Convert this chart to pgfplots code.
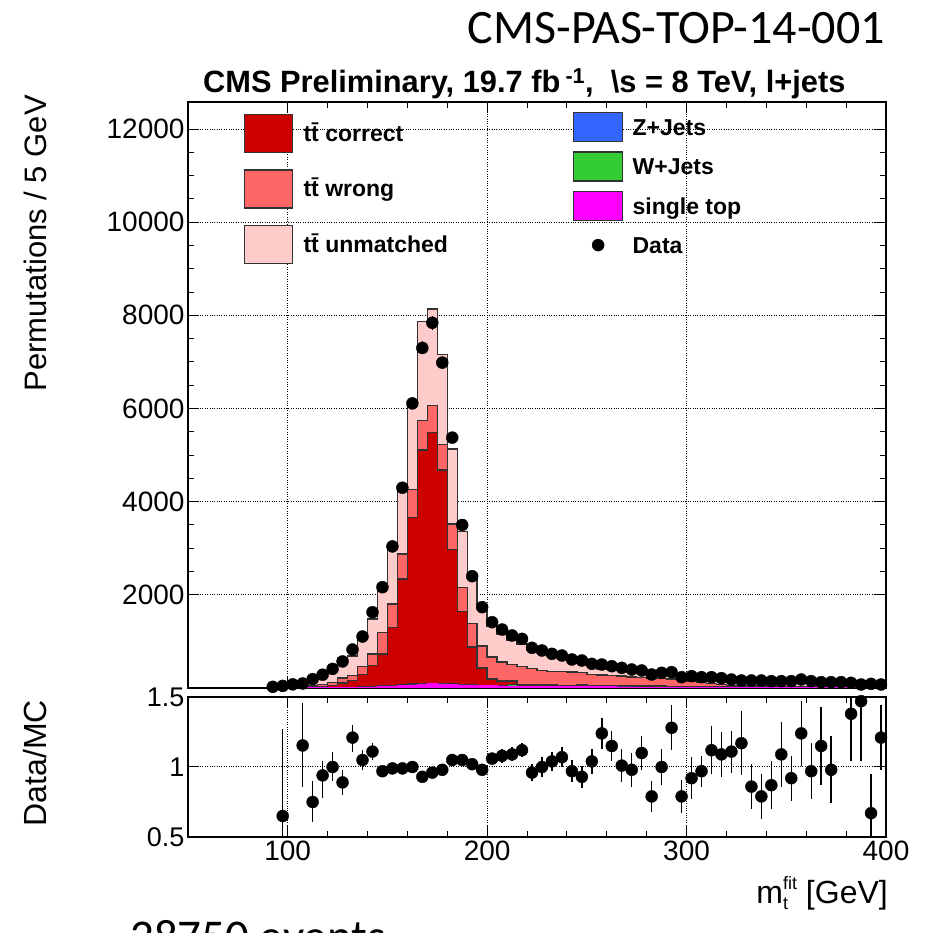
\documentclass[border=0pt]{standalone}
\usepackage{pgfplots}
\pgfplotsset{compat=1.18}
\usepackage{pgfplotstable}
\usepackage{fontspec}
\setmainfont{Liberation Sans}
\newfontfamily\calfont{Carlito}
\newcommand{\legfont}{\fontsize{23bp}{25bp}\selectfont\bfseries}
\definecolor{ttcor}{RGB}{204,0,0}
\definecolor{ttwro}{RGB}{255,102,102}
\definecolor{ttunm}{RGB}{255,204,204}
\definecolor{zjets}{RGB}{51,102,255}
\definecolor{wjets}{RGB}{51,204,51}
\definecolor{stop}{RGB}{255,0,255}
\definecolor{edge}{RGB}{50,50,50}

% cumulative stack tops, bins of 5 GeV given by left edge
\pgfplotstableread{
x st bz bw ct wt tot
95 1 1 1 6 15 69
100 2 2 3 6 14 50
105 2 2 3 10 22 84
110 3 4 8 20 50 253
115 4 5 25 35 75 303
120 6 7 15 55 115 410
125 8 9 15 110 215 640
130 10 11 19 155 270 683
135 14 15 25 284 463 1052
140 20 22 44 483 733 1478
145 28 30 55 733 1197 2240
150 38 40 52 1305 1807 2980
155 50 52 67 2343 2880 4300
160 65 67 92 3665 4260 6150
165 80 82 102 5111 5740 7865
170 90 92 107 5490 6062 8137
175 85 87 102 4682 5225 7160
180 75 77 89 2972 3524 5130
185 65 67 79 1642 2163 3355
190 58 60 70 876 1391 2353
195 52 54 64 433 900 1770
200 48 50 58 190 662 1333
205 45 47 55 147 555 1162
210 42 44 72 147 504 1034
215 40 42 50 70 461 942
220 37 39 46 68 425 898
225 35 37 44 65 375 805
230 33 34 41 63 354 705
235 31 32 38 60 350 651
240 29 30 36 58 340 631
245 27 28 56 66 330 634
250 26 27 33 54 290 499
255 25 26 31 52 280 406
260 24 25 30 50 270 407
265 22 23 28 48 260 429
270 21 22 27 46 240 405
275 20 21 25 44 230 342
280 19 20 24 42 215 367
285 18 19 23 40 205 326
290 17 18 22 38 195 266
295 16 17 21 36 180 294
300 15 16 19 34 150 276
305 14 15 18 32 125 239
310 13 14 17 30 100 207
315 12 13 16 28 80 194
320 12 13 16 27 60 164
325 11 12 15 26 50 138
330 10 11 14 25 45 187
335 10 11 13 24 42 204
340 9 10 12 23 40 169
345 9 10 12 22 38 135
350 8 9 11 21 36 160
355 8 9 11 20 34 147
360 7 8 10 19 32 152
365 7 8 10 18 30 109
370 6 7 9 17 28 128
375 6 7 9 16 26 125
380 6 7 9 15 24 80
385 5 6 8 14 22 51
390 5 6 8 13 21 133
395 5 6 8 12 20 62
400 5 6 8 12 20 62
}\mc

\pgfplotstableread{
x y e
92.5 25 20
97.5 45 40
102.5 78 40
107.5 97 25
112.5 190 35
117.5 285 35
122.5 410 40
127.5 570 55
132.5 826 60
137.5 1105 70
142.5 1627 90
147.5 2164 90
152.5 3040 100
157.5 4299 90
162.5 6110 120
167.5 7300 140
172.5 7840 150
177.5 6985 140
182.5 5375 110
187.5 3500 100
192.5 2400 75
197.5 1735 70
202.5 1413 55
207.5 1255 60
212.5 1127 55
217.5 1055 50
222.5 862 50
227.5 805 55
232.5 733 50
237.5 697 45
242.5 612 50
247.5 590 50
252.5 519 45
257.5 504 45
262.5 468 45
267.5 433 50
272.5 397 50
277.5 376 40
282.5 290 40
287.5 326 40
292.5 340 40
297.5 232 35
302.5 254 40
307.5 232 25
312.5 232 35
317.5 211 30
322.5 182 25
327.5 161 30
332.5 161 30
337.5 161 30
342.5 147 30
347.5 147 30
352.5 147 25
357.5 182 35
362.5 147 30
367.5 125 30
372.5 125 30
377.5 125 30
382.5 111 25
387.5 75 25
392.5 89 35
397.5 75 15
}\data

\pgfplotstableread{
x r ep em
97.5 0.65 0.62 0.5
107.5 1.154 0.30 0.30
112.5 0.75 0.15 0.14
117.5 0.94 0.10 0.16
122.5 1.00 0.11 0.10
127.5 0.89 0.09 0.09
132.5 1.21 0.09 0.10
137.5 1.05 0.07 0.07
142.5 1.11 0.06 0.06
147.5 0.97 0.04 0.04
152.5 0.99 0.03 0.03
157.5 0.99 0.02 0.02
162.5 1.00 0.02 0.02
167.5 0.93 0.02 0.02
172.5 0.96 0.02 0.02
177.5 0.98 0.02 0.02
182.5 1.05 0.02 0.02
187.5 1.05 0.03 0.03
192.5 1.02 0.03 0.03
197.5 0.98 0.04 0.04
202.5 1.06 0.04 0.04
207.5 1.08 0.05 0.05
212.5 1.09 0.05 0.05
217.5 1.12 0.05 0.05
222.5 0.96 0.06 0.06
227.5 1.00 0.07 0.07
232.5 1.04 0.07 0.07
237.5 1.07 0.07 0.07
242.5 0.97 0.08 0.08
247.5 0.93 0.08 0.08
252.5 1.04 0.09 0.09
257.5 1.24 0.11 0.11
262.5 1.15 0.11 0.11
267.5 1.01 0.12 0.12
272.5 0.98 0.12 0.12
277.5 1.10 0.12 0.12
282.5 0.79 0.11 0.11
287.5 1.00 0.13 0.13
292.5 1.28 0.16 0.16
297.5 0.79 0.12 0.12
302.5 0.92 0.15 0.15
307.5 0.97 0.11 0.11
312.5 1.12 0.17 0.17
317.5 1.09 0.16 0.16
322.5 1.11 0.15 0.15
327.5 1.17 0.23 0.23
332.5 0.86 0.16 0.16
337.5 0.79 0.16 0.16
342.5 0.87 0.17 0.17
347.5 1.09 0.23 0.23
352.5 0.92 0.16 0.16
357.5 1.24 0.23 0.23
362.5 0.97 0.20 0.20
367.5 1.15 0.28 0.28
372.5 0.98 0.24 0.24
382.5 1.38 0.33 0.34
387.5 1.47 0.45 0.43
392.5 0.67 0.28 0.28
397.5 1.21 0.23 0.23
}\ratio

\pgfplotsset{
  cmsaxis/.style={
    scale only axis, width=698bp, xmin=50, xmax=400,
    axis line style={line width=1.2bp, black},
    every tick/.style={line width=1bp, black},
    major tick length=11bp, minor tick length=6bp,
    tick align=inside,
    xtick={100,200,300,400}, minor x tick num=4,
    scaled ticks=false,
    grid=major, major grid style={dotted, line width=1bp, black},
    /pgf/number format/assume math mode=true,
    /pgf/number format/1000 sep={},
    ticklabel style={font=\fontsize{28bp}{30bp}\selectfont},
  },
  hist/.style={const plot, draw=edge, line width=1.4bp, forget plot},
}

\begin{document}
\begin{tikzpicture}
\path[use as bounding box] (-188bp,-96bp) rectangle (739bp,837bp);

% main panel
\begin{axis}[cmsaxis, at={(0bp,149bp)}, anchor=south west, height=586bp,
  ymin=0, ymax=12580, ytick={2000,4000,6000,8000,10000,12000}, minor y tick num=3,
  xticklabels={},
  legend style={draw=none, fill=none, at={(axis description cs:0.0802,0.9795)}, anchor=north west,
    inner sep=0pt, outer sep=0pt, row sep=16bp, nodes={inner sep=0pt}, column sep=0pt},
  legend cell align=left]
\addplot[hist, fill=ttunm] table[x=x,y=tot]{\mc} \closedcycle;
\addplot[hist, fill=ttwro] table[x=x,y=wt]{\mc} \closedcycle;
\addplot[hist, fill=ttcor] table[x=x,y=ct]{\mc} \closedcycle;
\addplot[hist, fill=wjets, line width=0.8bp] table[x=x,y=bw]{\mc} \closedcycle;
\addplot[hist, fill=zjets, line width=0.8bp] table[x=x,y=bz]{\mc} \closedcycle;
\addplot[hist, fill=stop, draw=stop, line width=0.8bp] table[x=x,y=st]{\mc} \closedcycle;
\addplot[only marks, mark=*, mark size=6bp, black, forget plot,
  error bars/.cd, y dir=both, y explicit, error mark=none,
  error bar style={line width=1.4bp, black}]
  table[x=x,y=y,y error=e]{\data};
\addlegendimage{legend image code/.code={\draw[fill=ttcor, draw=edge, line width=1.2bp] (0bp,0bp) rectangle (48bp,38bp);
  \node[anchor=base west, inner sep=0pt, font=\legfont, text=black] at (59bp,11bp) {t\={t} correct};}}
\addlegendentry{}
\addlegendimage{legend image code/.code={\draw[fill=ttwro, draw=edge, line width=1.2bp] (0bp,0bp) rectangle (48bp,38bp);
  \node[anchor=base west, inner sep=0pt, font=\legfont, text=black] at (59bp,11bp) {t\={t} wrong};}}
\addlegendentry{}
\addlegendimage{legend image code/.code={\draw[fill=ttunm, draw=edge, line width=1.2bp] (0bp,0bp) rectangle (48bp,38bp);
  \node[anchor=base west, inner sep=0pt, font=\legfont, text=black] at (59bp,11bp) {t\={t} unmatched};}}
\addlegendentry{}
\end{axis}

% second legend column
\begin{axis}[at={(0bp,149bp)}, anchor=south west, scale only axis, width=698bp, height=586bp,
  hide axis, xmin=0, xmax=1, ymin=0, ymax=1,
  legend style={draw=none, fill=none, at={(axis description cs:0.5516,0.983)}, anchor=north west,
    inner sep=0pt, outer sep=0pt, row sep=9.2bp, nodes={inner sep=0pt}, column sep=0pt},
  legend cell align=left]
\addlegendimage{legend image code/.code={\draw[fill=zjets, draw=edge, line width=1.2bp] (0bp,0bp) rectangle (49bp,29bp);
  \node[anchor=base west, inner sep=0pt, font=\legfont, text=black] at (59bp,6.5bp) {Z+Jets};}}
\addlegendentry{}
\addlegendimage{legend image code/.code={\draw[fill=wjets, draw=edge, line width=1.2bp] (0bp,0bp) rectangle (49bp,29bp);
  \node[anchor=base west, inner sep=0pt, font=\legfont, text=black] at (59bp,6.5bp) {W+Jets};}}
\addlegendentry{}
\addlegendimage{legend image code/.code={\draw[fill=stop, draw=edge, line width=1.2bp] (0bp,0bp) rectangle (49bp,29bp);
  \node[anchor=base west, inner sep=0pt, font=\legfont, text=black] at (59bp,6.5bp) {single top};}}
\addlegendentry{}
\addlegendimage{legend image code/.code={\path[draw=none, fill=none] (0bp,0bp) rectangle (49bp,29bp);
  \fill[black] (24.5bp,14.5bp) circle (6bp);
  \node[anchor=base west, inner sep=0pt, font=\legfont, text=black] at (59bp,6.5bp) {Data};}}
\addlegendentry{}
\end{axis}

% ratio panel
\begin{axis}[cmsaxis, at={(0bp,0bp)}, anchor=south west, height=140bp,
  ymin=0.5, ymax=1.5, ytick={0.5,1,1.5}, yticklabels={0.5,1,1.5},
  xticklabels={100,200,300,400},
  yticklabel style={font=\fontsize{27bp}{29bp}\selectfont}]
\addplot[only marks, mark=*, mark size=6bp, black,
  error bars/.cd, y dir=both, y explicit, error mark=none,
  error bar style={line width=1.4bp, black}]
  table[x=x,y=r,y error plus=ep,y error minus=em]{\ratio};
\end{axis}

% texts
\node[anchor=base west, inner sep=0pt, font=\fontsize{30.8bp}{32bp}\selectfont\bfseries]
  at (15bp,744bp) {CMS Preliminary, 19.7 fb\,\textsuperscript{-1},\ \ \textbackslash s = 8 TeV, l+jets};
\node[anchor=base east, inner sep=0pt, font=\calfont\fontsize{48bp}{50bp}\selectfont]
  at (697bp,793bp) {CMS-PAS-TOP-14-001};
\node[anchor=base west, inner sep=0pt, font=\calfont\fontsize{47bp}{49bp}\selectfont]
  at (-58bp,-115bp) {28750 events};
\node[rotate=90, anchor=east, inner sep=0pt, font=\fontsize{31bp}{33bp}\selectfont]
  at (-153bp,742bp) {Permutations / 5 GeV};
\node[rotate=90, anchor=east, inner sep=0pt, font=\fontsize{32bp}{34bp}\selectfont]
  at (-153bp,137bp) {Data/MC};
\node[anchor=base east, inner sep=0pt, font=\fontsize{32bp}{34bp}\selectfont]
  at (700bp,-66bp) {m{\fontsize{18bp}{18bp}\selectfont\rlap{\raisebox{-6bp}{t}}\raisebox{14bp}{fit}} [GeV]};
\end{tikzpicture}
\end{document}
